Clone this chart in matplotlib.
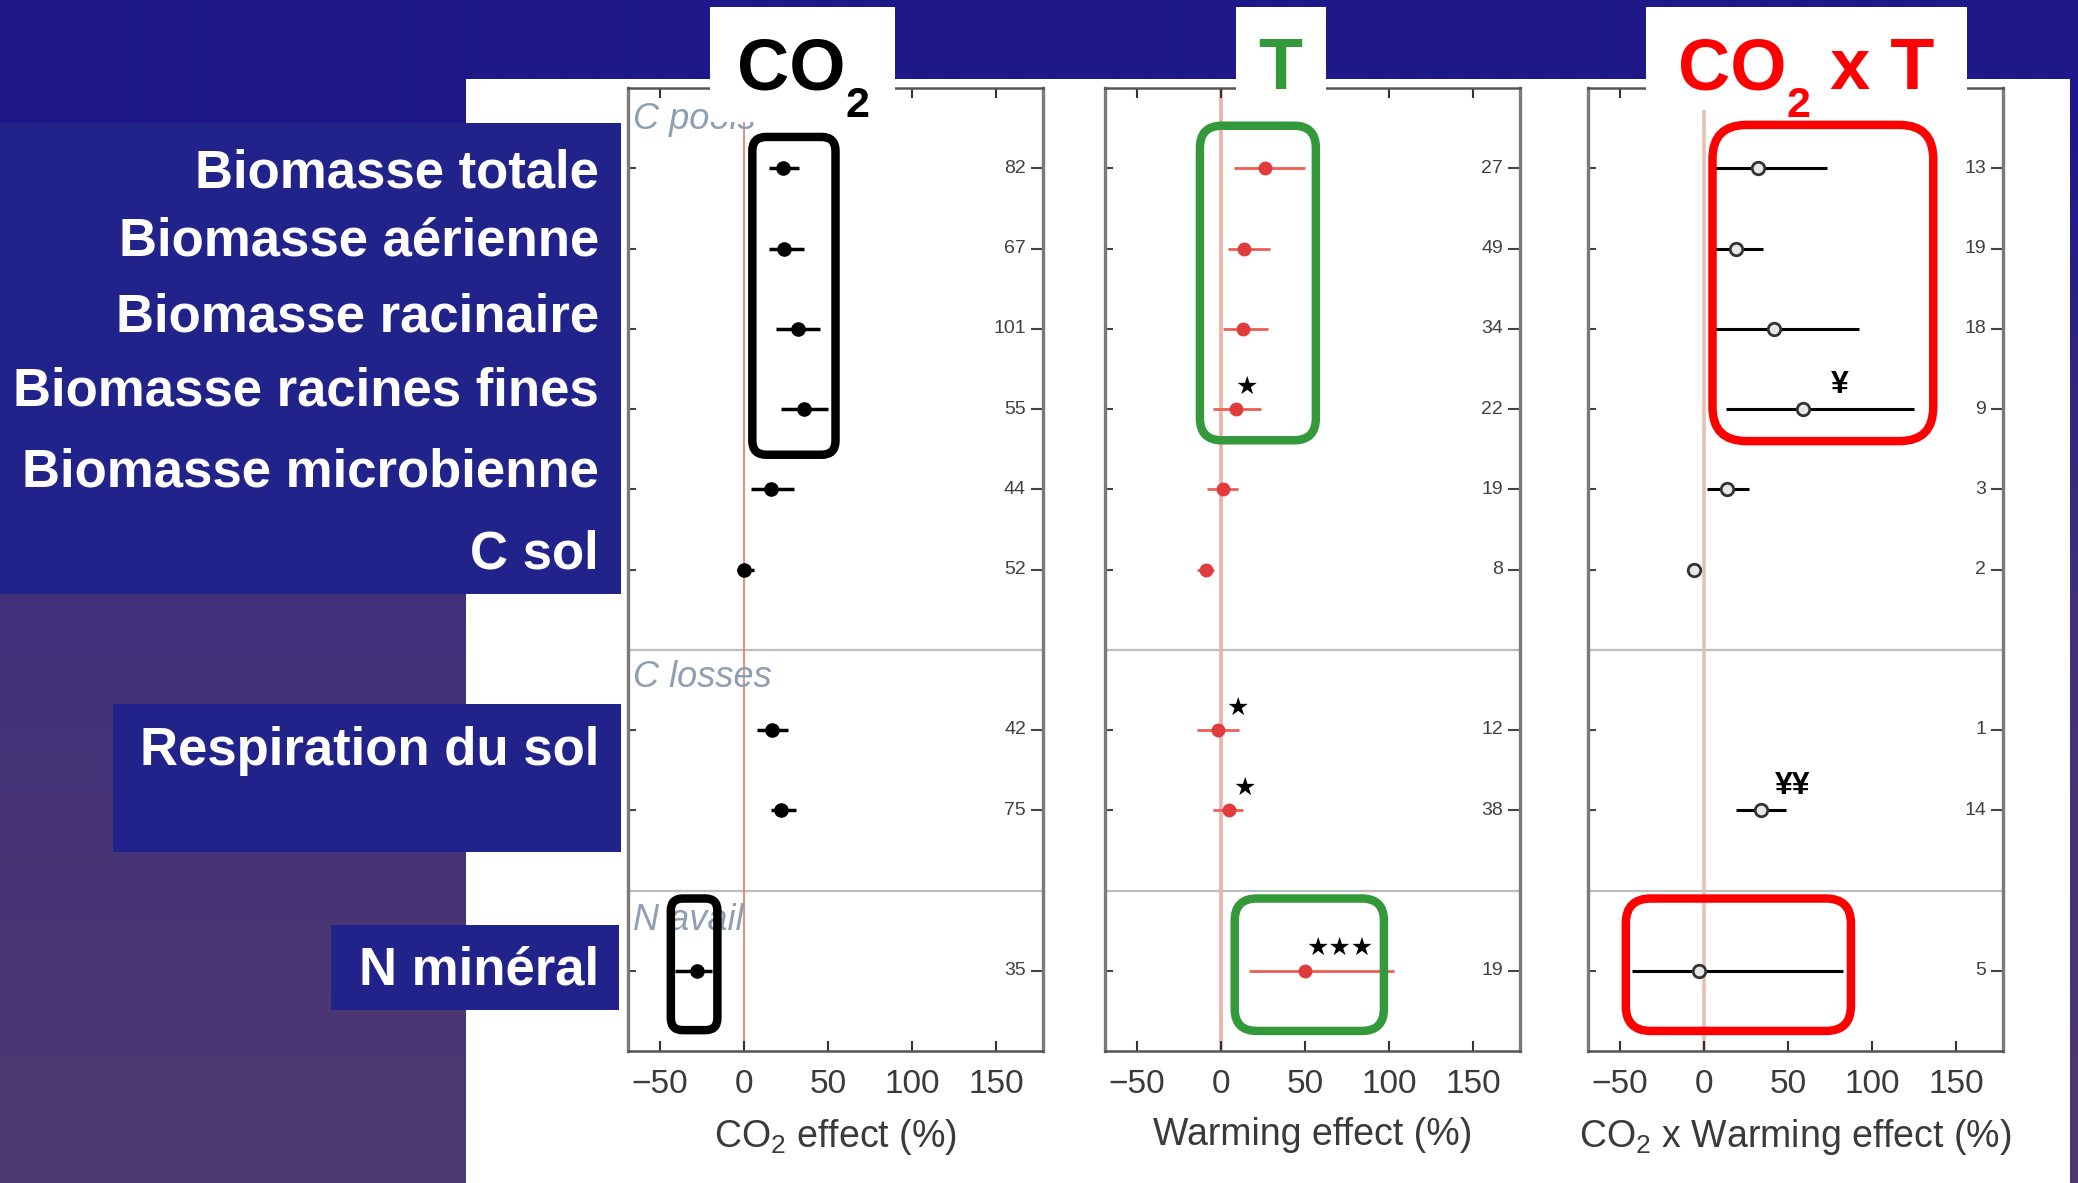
import numpy as np
import matplotlib
matplotlib.use("Agg")
import matplotlib.pyplot as plt
from matplotlib.patches import Rectangle, FancyBboxPatch
from matplotlib.transforms import blended_transform_factory

# ---------------- data ----------------
row_labels = ["Biomasse totale", "Biomasse aérienne", "Biomasse racinaire",
              "Biomasse racines fines", "Biomasse microbienne", "C sol",
              "Respiration du sol", "N minéral"]
rows = [1, 2, 3, 4, 5, 6, 8, 9, 11]
section_labels = ["C pools", "C losses", "N avail"]

co2_mean = [23, 24, 32, 36, 16, 0, 17, 22, -28]
co2_low = [15, 15, 19, 22, 4, -4, 8, 16, -41]
co2_high = [33, 36, 45, 50, 30, 6, 26, 31, -19]
co2_n = [82, 67, 101, 55, 44, 52, 42, 75, 35]
co2_sig = ["", "", "", "", "", "", "", "", ""]

warm_mean = [26, 14, 13, 9, 1, -9, -2, 5, 50]
warm_low = [8, 4, 1, -5, -8, -14, -14, -5, 17]
warm_high = [50, 29, 28, 24, 10, -4, 11, 13, 103]
warm_n = [27, 49, 34, 22, 19, 8, 12, 38, 19]
warm_sig = ["", "", "", "★", "", "", "★", "★", "★★★"]

inter_mean = [32, 19, 42, 59, 14, -6, np.nan, 34, -3]
inter_low = [5, 5, 5, 13, 2, -8, np.nan, 19, -43]
inter_high = [73, 35, 92, 125, 27, -4, np.nan, 49, 83]
inter_n = [13, 19, 18, 9, 3, 2, 1, 14, 5]
inter_sig = ["", "", "", "¥", "", "", "", "¥¥", ""]

x_ticks = [-50, 0, 50, 100, 150]
axis_titles = ["CO$_2$ effect (%)", "Warming effect (%)", "CO$_2$ x Warming effect (%)"]

# ---------------- layout (pixels, origin top-left) ----------------
W, H, DPI = 2078, 1183, 100
AX_LEFTS = [628, 1105, 1588]
AX_W = 415
AX_TOP, AX_BOTTOM = 88, 1051
XMIN, XMAX = -69, 178
NROWS = 12

label_rows = [1.0, 1.85, 2.8, 3.72, 4.73, 5.75, 8.2, 10.93]
section_rows = [0.39, 7.35, 10.38]
warm_sig_x = [None, None, None, 15, None, None, 10, 14, 71]
inter_sig_x = [None, None, None, 81, None, None, None, 53, None]

plt.rcParams["font.family"] = ["Liberation Sans", "DejaVu Sans"]
plt.rcParams["mathtext.fontset"] = "custom"
plt.rcParams["mathtext.rm"] = "Liberation Sans"
plt.rcParams["mathtext.it"] = "Liberation Sans:italic"
plt.rcParams["mathtext.bf"] = "Liberation Sans:bold"

fig = plt.figure(figsize=(W / DPI, H / DPI), dpi=DPI)


def px_x(k, x):
    return AX_LEFTS[k] + (x - XMIN) / (XMAX - XMIN) * AX_W


def px_y(r):
    return AX_TOP + r / NROWS * (AX_BOTTOM - AX_TOP)


# ---------------- slide background ----------------
bg = fig.add_axes([0, 0, 1, 1], zorder=-5)
ys = np.arange(H) + 0.5
stop_y = [0, 123, 594, H]
stop_rgb = np.array([[30, 24, 136], [30, 24, 136], [64, 48, 122], [79, 57, 113]]) / 255
grad = np.column_stack([np.interp(ys, stop_y, stop_rgb[:, i]) for i in range(3)])
bg.imshow(grad[:, None, :], extent=[0, W, H, 0], aspect="auto", interpolation="bilinear")
bg.add_patch(Rectangle((466, 79), 2070 - 466, H - 79, facecolor="white", edgecolor="none"))
for x0, y0, x1, y1 in [(0, 123, 621, 594), (113, 704, 621, 852), (331, 925, 619, 1010)]:
    bg.add_patch(Rectangle((x0, y0), x1 - x0, y1 - y0, facecolor="#22238A", edgecolor="none"))
bg.set_xlim(0, W)
bg.set_ylim(H, 0)
bg.axis("off")

# ---------------- forest panels ----------------
panels = [
    dict(mean=co2_mean, low=co2_low, high=co2_high, n=co2_n, sig=co2_sig, sig_x=[None] * 9,
         bar="black", lw=2.5, mfc="black", mec="black", ms=9.5, mew=1, zero="#E4786A", zlw=1.2),
    dict(mean=warm_mean, low=warm_low, high=warm_high, n=warm_n, sig=warm_sig, sig_x=warm_sig_x,
         bar="#EC5E50", lw=2.0, mfc="#E03C3C", mec="#E03C3C", ms=9, mew=1, zero="#EBB2A8", zlw=2.6),
    dict(mean=inter_mean, low=inter_low, high=inter_high, n=inter_n, sig=inter_sig, sig_x=inter_sig_x,
         bar="black", lw=2.2, mfc="#E8E8E8", mec="#333333", ms=9, mew=2, zero="#E3C2B2", zlw=2.6),
]

axes = []
for k, p in enumerate(panels):
    ax = fig.add_axes([AX_LEFTS[k] / W, 1 - AX_BOTTOM / H, AX_W / W, (AX_BOTTOM - AX_TOP) / H], zorder=1)
    ax.set_facecolor("none")
    ax.set_xlim(XMIN, XMAX)
    ax.set_ylim(NROWS, 0)
    for sep in (7, 10):
        ax.axhline(sep, color="#BDBDBD", lw=1.6, zorder=1)
    ax.axvline(0, color=p["zero"], lw=p["zlw"], zorder=1)

    mean = np.array(p["mean"], dtype=float)
    low = np.array(p["low"], dtype=float)
    high = np.array(p["high"], dtype=float)
    r = np.array(rows, dtype=float)
    ok = ~np.isnan(mean)
    ax.hlines(r[ok], low[ok], high[ok], colors=p["bar"], lw=p["lw"], zorder=3)
    ax.plot(mean[ok], r[ok], "o", ms=p["ms"], mfc=p["mfc"], mec=p["mec"], mew=p["mew"], zorder=4)

    tr = blended_transform_factory(ax.transAxes, ax.transData)
    for rv, nv in zip(rows, p["n"]):
        ax.text(0.959, rv, str(nv), transform=tr, ha="right", va="center", fontsize=14, color="#404040")

    for rv, s, sx in zip(rows, p["sig"], p["sig_x"]):
        if s:
            if "★" in s:
                ax.text(sx, rv - 0.28, s, ha="center", va="center", fontsize=18, color="black",
                        family=["DejaVu Sans"], zorder=5)
            else:
                ax.text(sx, rv - 0.3, s, ha="center", va="center", fontsize=23, fontweight="bold",
                        color="black", zorder=5)

    ax.set_xticks(x_ticks)
    ax.set_xticklabels([f"{t}".replace("-", "\u2212") for t in x_ticks])
    ax.tick_params(axis="x", direction="in", top=True, bottom=True, length=7.5, width=1.5,
                   color="#333333", labelsize=24, labelcolor="#3A3A3A", pad=13)
    ax.set_yticks(rows)
    ax.tick_params(axis="y", direction="in", left=True, right=True, labelleft=False,
                   labelright=False, length=6, width=1.5, color="#444444")
    for t in ax.yaxis.get_major_ticks():
        t.tick2line.set_markersize(9)
    for side in ("left", "right"):
        ax.spines[side].set_color("#7A7A7A")
        ax.spines[side].set_linewidth(2.4)
    for side in ("top", "bottom"):
        ax.spines[side].set_color("#555555")
        ax.spines[side].set_linewidth(1.8)
    ax.set_xlabel(axis_titles[k], fontsize=27, color="#3A3A3A", labelpad=12)
    axes.append(ax)

# section labels in the first panel
tr0 = blended_transform_factory(axes[0].transAxes, axes[0].transData)
for lab, rv in zip(section_labels, section_rows):
    axes[0].text(0.012, rv, lab, transform=tr0, ha="left", va="center", style="italic",
                 color="#8E9EB3", fontsize=26)

# ---------------- overlay: titles, labels, highlight boxes ----------------
ov = fig.add_axes([0, 0, 1, 1], zorder=10)
ov.set_facecolor("none")
ov.set_xlim(0, W)
ov.set_ylim(H, 0)
ov.axis("off")

for x0, x1, y1 in [(710, 895, 122), (1236, 1326, 110), (1646, 1967, 110)]:
    ov.add_patch(Rectangle((x0, 7), x1 - x0, y1 - 7, facecolor="white", edgecolor="none"))

renderer = fig.canvas.get_renderer()


def draw_title(pieces, cx, baseline, color):
    placed = []
    xpos = 0.0
    for s, fs, dy in pieces:
        t = ov.text(0, baseline + dy, s, fontsize=fs, fontweight="bold", color=color,
                    ha="left", va="baseline")
        w = t.get_window_extent(renderer).width
        placed.append((t, xpos))
        xpos += w
    for t, off in placed:
        t.set_x(cx - xpos / 2 + off)


draw_title([("CO", 52, 0), ("2", 31, 28)], 803, 89, "black")
draw_title([("T", 52, 0)], 1280, 89, "#33993A")
draw_title([("CO", 52, 0), ("2", 31, 28), (" x T", 52, 0)], 1806, 89, "#FF0000")

for lab, rv in zip(row_labels, label_rows):
    ov.text(599, px_y(rv) + 19, lab, ha="right", va="baseline", fontsize=38,
            fontweight="bold", color="white")

highlight_boxes = [
    (0, 5.0, 54.5, 0.61, 4.57, "black", 14),
    (0, -43.5, -15.8, 10.10, 11.74, "black", 12),
    (1, -12.5, 56.5, 0.47, 4.39, "#33993A", 22),
    (1, 8.2, 97.0, 10.10, 11.75, "#33993A", 22),
    (2, 5.1, 136.5, 0.46, 4.40, "#FF0000", 34),
    (2, -46.5, 87.5, 10.10, 11.75, "#FF0000", 25),
]
for k, x0, x1, r0, r1, col, rad in highlight_boxes:
    X0, X1 = px_x(k, x0), px_x(k, x1)
    Y0, Y1 = px_y(r0), px_y(r1)
    ov.add_patch(FancyBboxPatch((X0, Y0), X1 - X0, Y1 - Y0,
                                boxstyle=f"round,pad=0,rounding_size={rad}",
                                fill=False, edgecolor=col, linewidth=6.1))

fig.savefig("out.png", dpi=DPI)
